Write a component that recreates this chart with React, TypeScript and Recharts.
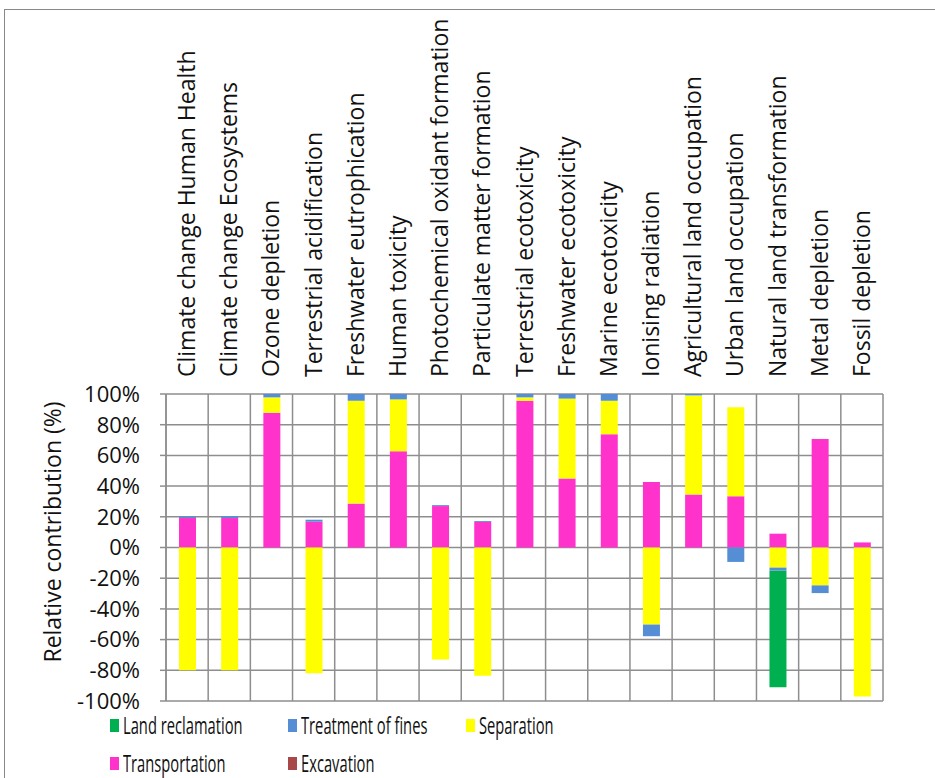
import { BarChart, Bar, XAxis, YAxis, CartesianGrid } from "recharts";

const categories = [
  "Climate change Human Health",
  "Climate change Ecosystems",
  "Ozone depletion",
  "Terrestrial acidification",
  "Freshwater eutrophication",
  "Human toxicity",
  "Photochemical oxidant formation",
  "Particulate matter formation",
  "Terrestrial ecotoxicity",
  "Freshwater ecotoxicity",
  "Marine ecotoxicity",
  "Ionising radiation",
  "Agricultural land occupation",
  "Urban land occupation",
  "Natural land transformation",
  "Metal depletion",
  "Fossil depletion",
];

// relative contribution in %
const landReclamation = [0, 0, 0, 0, 0, 0, 0, 0, 0, 0, 0, 0, 0, 0, -76, 0, 0];
const treatmentOfFines = [1, 1.2, 2.2, 1.3, 4.4, 3.5, 0.6, 0.6, 2.2, 3, 4.4, -7.6, 0.9, -9.4, -2, -5, 0];
const separation = [-80, -80, 10, -82, 67, 33.8, -73, -83.6, 2.2, 52, 21.8, -50.2, 64.6, 57.9, -13.1, -24.7, -97];
const transportation = [19.2, 19.2, 87.8, 16.8, 28.6, 62.7, 27, 16.6, 95.6, 45, 73.8, 42.6, 34.5, 33.4, 9, 70.7, 3.3];
const excavation = [0, 0, 0, 0, 0, 0, 0, 0, 0, 0, 0, 0, 0, 0, 0, 0, 0];

const yTicks = [-100, -80, -60, -40, -20, 0, 20, 40, 60, 80, 100];

const data = categories.map((name, i) => ({
  name,
  landReclamation: landReclamation[i],
  treatmentOfFines: treatmentOfFines[i],
  separation: separation[i],
  transportation: transportation[i],
  excavation: excavation[i],
}));

const legendItems = [
  { label: "Land reclamation", color: "#00b050", left: 110, top: 717 },
  { label: "Treatment of fines", color: "#558ed5", left: 288, top: 717 },
  { label: "Separation", color: "#ffff00", left: 466, top: 717 },
  { label: "Transportation", color: "#ff33cc", left: 110, top: 755 },
  { label: "Excavation", color: "#a84848", left: 288, top: 755 },
];

const CategoryTick = (props: any) => {
  const { x, y, payload } = props;
  return (
    <text
      x={x}
      y={y}
      dy="0.35em"
      transform={`rotate(-90, ${x}, ${y})`}
      textAnchor="start"
      fontFamily="'Open Sans', sans-serif"
      fontSize={23}
      fill="#111"
    >
      {payload.value}
    </text>
  );
};

export default function App() {
  return (
    <div style={{ position: "absolute", left: 0, top: 0, width: 935, height: 778, overflow: "hidden", background: "#fff" }}>
      <div style={{ position: "absolute", left: 4, top: 9, width: 950, height: 800, border: "1.5px solid #888" }} />
      <div style={{ position: "absolute", left: 0, top: 0 }}>
        <BarChart
          width={935}
          height={778}
          data={data}
          stackOffset="sign"
          barSize={17}
          margin={{ top: 0, right: 52, bottom: 77, left: 0 }}
        >
          <CartesianGrid
            stroke="#8e8e8e"
            strokeWidth={1.5}
            verticalCoordinatesGenerator={({ offset }: any) =>
              categories.map((_, i) => offset.left + (i * offset.width) / categories.length).concat(offset.left + offset.width)
            }
          />
          <XAxis
            dataKey="name"
            orientation="top"
            height={394}
            interval={0}
            axisLine={false}
            tickLine={false}
            tickSize={0}
            tickMargin={17}
            tick={<CategoryTick />}
          />
          <YAxis
            width={166}
            domain={[-100, 100]}
            ticks={yTicks}
            interval={0}
            tickFormatter={(v: number) => `${v}%`}
            axisLine={{ stroke: "#8e8e8e", strokeWidth: 1.5 }}
            tickLine={{ stroke: "#8e8e8e", strokeWidth: 1.5 }}
            tickSize={6}
            tickMargin={20}
            tick={{ fontFamily: "'Open Sans', sans-serif", fontSize: 22, fill: "#111" }}
            label={{
              content: () => (
                <text
                  x={52}
                  y={532}
                  transform="rotate(-90, 52, 532)"
                  textAnchor="middle"
                  dominantBaseline="central"
                  fontFamily="'Open Sans', sans-serif"
                  fontSize={23}
                  fill="#111"
                >
                  Relative contribution (%)
                </text>
              ),
            }}
          />
          <Bar dataKey="excavation" stackId="a" fill="#a84848" isAnimationActive={false} />
          <Bar dataKey="transportation" stackId="a" fill="#ff33cc" isAnimationActive={false} />
          <Bar dataKey="separation" stackId="a" fill="#ffff00" isAnimationActive={false} />
          <Bar dataKey="treatmentOfFines" stackId="a" fill="#558ed5" isAnimationActive={false} />
          <Bar dataKey="landReclamation" stackId="a" fill="#00b050" isAnimationActive={false} />
        </BarChart>
      </div>
      {legendItems.map((item) => (
        <div
          key={item.label}
          style={{
            position: "absolute",
            left: item.left,
            top: item.top,
            display: "flex",
            alignItems: "center",
            gap: 4,
            fontFamily: "'Open Sans', sans-serif",
            fontSize: 23,
            lineHeight: "16px",
            color: "#111",
            whiteSpace: "nowrap",
          }}
        >
          <span style={{ display: "inline-block", width: 9, height: 13, background: item.color }} />
          <span style={{ display: "inline-block", transform: "scaleX(0.64)", transformOrigin: "left center" }}>{item.label}</span>
        </div>
      ))}
    </div>
  );
}
